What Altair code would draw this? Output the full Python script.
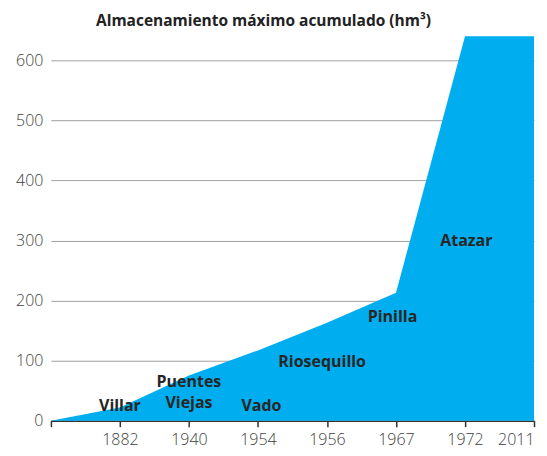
import altair as alt
import pandas as pd

# Data
idx = [0, 1, 2, 3, 4, 5, 6, 7]
years = ["", "1882", "1940", "1954", "1956", "1967", "1972", "2011"]
storage = [0, 22, 75, 117, 163, 213, 640, 640]

label_text = ["Villar", "Puentes", "Viejas", "Vado", "Riosequillo", "Pinilla", "Atazar"]
label_x = [1.0, 2.0, 2.0, 3.05, 3.93, 4.95, 6.02]
label_y = [25, 65, 30, 25, 97, 173, 299]

df = pd.DataFrame({"i": idx, "v": storage})
lab = pd.DataFrame({"t": label_text, "x": label_x, "y": label_y})

FONT = "Open Sans"
label_expr = "[" + ",".join("'%s'" % y for y in years) + "][datum.value]"

xscale = alt.Scale(domain=[0, 7], nice=False, zero=False)
yscale = alt.Scale(domain=[0, 640], nice=False)

area = alt.Chart(df).mark_area(color="#00AEEF", interpolate="linear").encode(
    x=alt.X("i:Q", scale=xscale,
            axis=alt.Axis(values=idx, labelExpr=label_expr, title=None, grid=False,
                          domainColor="#333333", domainWidth=1.5, tickColor="#333333",
                          tickWidth=1.5, tickSize=6, labelPadding=5, labelFontSize=16,
                          labelColor="#3d3d3d", labelFont=FONT, labelFontWeight=300)),
    y=alt.Y("v:Q", scale=yscale,
            axis=alt.Axis(values=[0, 100, 200, 300, 400, 500, 600], title=None,
                          grid=True, gridColor="#a0a0a0", gridWidth=1, domain=False,
                          ticks=False, labelPadding=8, labelFontSize=16,
                          labelColor="#3d3d3d", labelFont=FONT, labelFontWeight=300)),
)

text = alt.Chart(lab).mark_text(font=FONT, fontSize=16, fontWeight="bold",
                                color="#262626", align="center", baseline="middle").encode(
    x=alt.X("x:Q", scale=xscale),
    y=alt.Y("y:Q", scale=yscale),
    text="t:N",
)

chart = alt.layer(area, text).properties(
    width=484, height=385,
    title=alt.TitleParams("Almacenamiento máximo acumulado (hm³)", font=FONT,
                          fontSize=15.5, fontWeight="bold", color="#222222",
                          anchor="middle", dx=-29, offset=7),
    autosize=alt.AutoSizeParams(type="none"),
    padding={"left": 43, "top": 28, "right": 5, "bottom": 35},
).configure_view(stroke=None)

chart.save("out.html", embed_options={"renderer": "svg", "actions": False})
